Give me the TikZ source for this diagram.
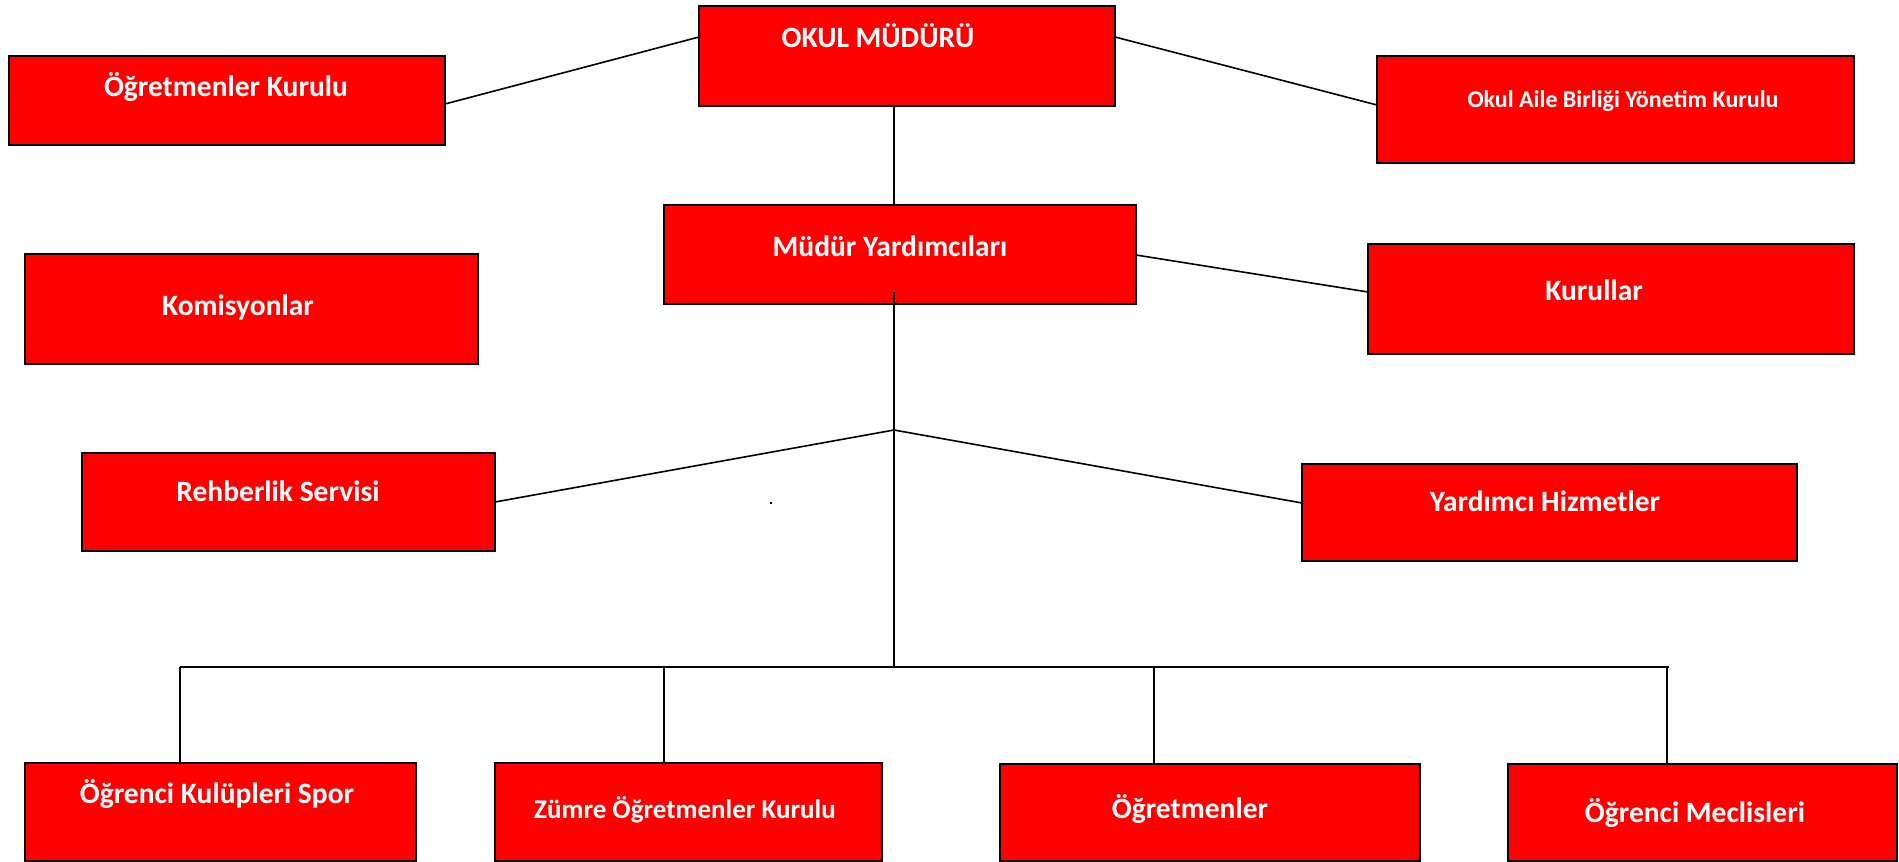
\documentclass[tikz,border=0pt]{standalone}
\usepackage{fontspec}
\setmainfont{Carlito}
\begin{document}
\begin{tikzpicture}[x=1pt,y=-1pt,
  box/.style={draw=black,fill=red,line width=2pt,inner sep=0pt,outer sep=0pt},
  lbl/.style={text=white,inner sep=0pt,anchor=base},
  big/.style={font=\bfseries\fontsize{29.5}{34}\selectfont},
  conn/.style={draw=black,line width=1.6pt}]
\useasboundingbox (0,0) rectangle (1899,862);
% boxes
\node[box,minimum width=436pt,minimum height=89pt]  (ok)   at (227,100.5) {};
\node[box,minimum width=416pt,minimum height=100pt] (okul) at (907,56) {};
\node[box,minimum width=477pt,minimum height=107pt] (oab)  at (1615.5,109.5) {};
\node[box,minimum width=472pt,minimum height=99pt]  (my)   at (900,254.5) {};
\node[box,minimum width=453pt,minimum height=110pt] (kom)  at (251.5,309) {};
\node[box,minimum width=486pt,minimum height=110pt] (kur)  at (1611,299) {};
\node[box,minimum width=413pt,minimum height=98pt]  (rs)   at (288.5,502) {};
\node[box,minimum width=495pt,minimum height=97pt]  (yh)   at (1549.5,512.5) {};
\node[box,minimum width=391pt,minimum height=98pt]  (oks)  at (220.5,812) {};
\node[box,minimum width=387pt,minimum height=98pt]  (zok)  at (688.5,812) {};
\node[box,minimum width=420pt,minimum height=97pt]  (ogr)  at (1210,812.5) {};
\node[box,minimum width=389pt,minimum height=97pt]  (om)   at (1702.5,812.5) {};
% labels
\node[lbl,big] (tok)   at (226,96)   {Öğretmenler Kurulu};
\node[lbl,big] (tokul) at (878,47)   {OKUL MÜDÜRÜ};
\node[lbl,font=\bfseries\fontsize{24}{28}\selectfont] (toab)  at (1623,107) {Okul Aile Birliği Yönetim Kurulu};
\node[lbl,big] (tmy)   at (890,256)  {Müdür Yardımcıları};
\node[lbl,big] (tkom)  at (238,315)  {Komisyonlar};
\node[lbl,big] (tkur)  at (1594,300) {Kurullar};
\node[lbl,big] (trs)   at (278,501)  {Rehberlik Servisi};
\node[lbl,big] (tyh)   at (1545,511) {Yardımcı Hizmetler};
\node[lbl,big] (toks)  at (217,803)  {Öğrenci Kulüpleri Spor};
\node[lbl,font=\bfseries\fontsize{27}{31}\selectfont] (tzok)  at (685,818)  {Zümre Öğretmenler Kurulu};
\node[lbl,big] (togr)  at (1190,818) {Öğretmenler};
\node[lbl,big] (tom)   at (1695,822) {Öğrenci Meclisleri};
% helper coordinates
\coordinate (top)  at (894,106);
\coordinate (mytop) at (894,205);
\coordinate (spine) at (894,292);
\coordinate (apex) at (894,430);
\coordinate (bus)  at (894,667);
\coordinate (busL) at (180,667);
\coordinate (busR) at (1669,667);
\coordinate (b1) at (180,667);
\coordinate (b2) at (664,667);
\coordinate (b3) at (1154,667);
\coordinate (b4) at (1667,667);
% connectors
\draw[conn] ([yshift=-48pt]ok.north east) -- ([yshift=-31pt]okul.north west);
\draw[conn] ([yshift=-31pt]okul.north east) -- ([yshift=-49pt]oab.north west);
\draw[conn] (top) -- (mytop);
\draw[conn] ([yshift=-50pt]my.north east) -- ([yshift=-48pt]kur.north west);
\draw[conn] (spine) -- (bus);
\draw[conn] (apex) -- ([yshift=-49pt]rs.north east);
\draw[conn] (apex) -- ([yshift=-39pt]yh.north west);
\draw[conn] (busL) -- (busR);
\draw[conn] (b1) -- (b1 |- oks.north);
\draw[conn] (b2) -- (b2 |- zok.north);
\draw[conn] (b3) -- (b3 |- ogr.north);
\draw[conn] (b4) -- (b4 |- om.north);
\fill[black] (770,502) rectangle (772,504);
\end{tikzpicture}
\end{document}
